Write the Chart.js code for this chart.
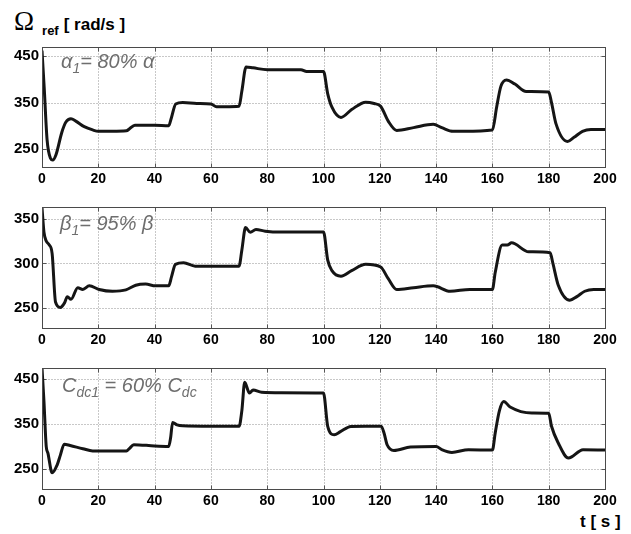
<!DOCTYPE html>
<html>
<head>
<meta charset="utf-8">
<script src="https://cdn.jsdelivr.net/npm/chart.js@4.4.1/dist/chart.umd.min.js"></script>
<style>
    body { margin: 0; background: #fff; }
    #wrap { position: relative; width: 631px; height: 534px; font-family: "Liberation Sans", Arial, sans-serif; }
    canvas { position: absolute; left: 0; }
    .note { position: absolute; color: #6e6e6e; font-style: italic; font-size: 20px; white-space: nowrap; }
    .note sub { font-size: 14px; vertical-align: -5px; }
</style>
</head>
<body>
<div id="wrap">
    <div style="position:absolute;left:14px;top:6px;white-space:nowrap;">
        <span style="font-family:'Liberation Serif',serif;font-size:27px;">&Omega;</span><span style="font-weight:bold;font-size:13px;position:relative;top:5px;margin-left:8px;">ref</span><span style="font-weight:bold;font-size:17px;margin-left:5px;">[ rad/s ]</span>
    </div>
    <div style="position:absolute;left:580px;top:512px;font-weight:bold;font-size:17px;white-space:nowrap;">t [ s ]</div>

    <canvas id="chartAlpha" width="631" height="150" style="top:39px"></canvas>
    <canvas id="chartBeta" width="631" height="151" style="top:199px"></canvas>
    <canvas id="chartCdc" width="631" height="151" style="top:360px"></canvas>

    <div class="note" style="left:61px;top:50px;">&alpha;<sub>1</sub>= 80% &alpha;</div>
    <div class="note" style="left:60px;top:212px;">&beta;<sub>1</sub>= 95% &beta;</div>
    <div class="note" style="left:62px;top:374px;">C<sub>dc1</sub> = 60% C<sub>dc</sub></div>
</div>
<script>
// x ticks (time, s)
const xTicks = [0, 20, 40, 60, 80, 100, 120, 140, 160, 180, 200];

// panel 1: alpha1 = 80% alpha
const tAlpha = [0, 0.8, 1.8, 3, 3.8, 5, 7, 8.5, 10.3, 12, 15, 18, 20, 25, 30, 31, 33, 40, 45, 46, 47.5, 50, 55, 60, 62, 65, 70, 71, 72.5, 75, 80, 85, 92, 94, 100, 101.5, 103, 106.2, 110, 115, 118, 120.3, 123, 126, 132, 139, 142, 146, 150, 160, 161.5, 163, 165, 168, 172, 180, 181, 182.6, 186.7, 189, 192, 195, 200];
const vAlpha = [462, 380, 270, 230, 226, 238, 285, 308, 315, 310, 298, 291, 288, 288, 289, 293, 301, 301, 300, 318, 347, 350, 348, 347, 341, 341, 342, 375, 427, 425, 421, 421, 421, 417, 417, 369, 340, 318, 335, 351, 348, 342, 310, 290, 296, 303, 296, 288, 288, 291, 340, 385, 399, 390, 374, 373, 350, 304, 266, 275, 288, 292, 292];
const yTicksAlpha = [250, 350, 450];

// panel 2: beta1 = 95% beta
const tBeta = [0, 0.7, 1.5, 2.5, 3.6, 4.8, 6.5, 8, 9, 10.3, 12.7, 14.5, 16.8, 20.3, 25, 29.8, 33.3, 36.8, 40.3, 45, 46, 47.4, 50.3, 54.4, 60, 70, 71, 72.3, 74, 76, 79.3, 85, 100, 101.5, 103, 106.2, 110, 115, 120.3, 123, 126, 132, 139, 145, 152, 160, 161, 163.5, 165.3, 166.8, 172.9, 180.5, 181.5, 183.4, 187.5, 190, 192.8, 196, 200];
const vBeta = [362, 335, 325, 321, 311, 257, 251, 256, 263, 260, 273, 271, 275, 271, 269, 270.5, 275.7, 277, 275, 275, 285, 299, 300.7, 297, 297, 297, 315, 340, 334.7, 338, 336, 335, 335, 303.7, 292, 285.8, 292, 299, 296, 283, 271, 273, 275, 269, 271, 271, 290, 320.5, 320.5, 323, 313, 312, 300, 275.7, 259, 263, 269, 271, 271];
const yTicksBeta = [250, 300, 350];

// panel 3: Cdc1 = 60% Cdc
const tCdc = [0, 0.7, 1.5, 2.1, 3.6, 5.4, 6.5, 7.9, 10, 14.5, 18, 25, 30, 31, 32.6, 40, 45, 45.7, 46.4, 48, 50, 60, 70, 71, 72, 73.7, 75, 78, 85, 100, 101.5, 103.8, 106, 109.7, 115, 120.5, 121.5, 122.6, 125, 130.9, 140, 142, 145.6, 151.5, 160, 161, 162.5, 164, 166.3, 174, 180, 181, 183.4, 187, 192.2, 200];
const vCdc = [475, 400, 300, 285, 241, 259, 280, 305, 302, 295, 290, 290, 290, 295, 304, 301, 300, 320, 353.6, 348, 346, 345, 345, 380, 443, 419, 426, 421, 420, 419, 344.7, 326, 333, 344.7, 345, 345, 330, 303.8, 291, 298.6, 300, 293, 286.7, 292.6, 292, 330, 380, 400.5, 388, 374.5, 374, 345, 307.6, 274, 292.6, 292];
const yTicksCdc = [250, 350, 450];

// dotted grid, inward ticks and a box round the plot area (matlab look)
const framePlugin = {
    id: 'frame',
    beforeDatasetsDraw(chart) {
        const a = chart.chartArea;
        const ctx = chart.ctx;
        const L = Math.round(a.left) + 0.5, R = Math.round(a.right) + 0.5;
        const T = Math.round(a.top) + 0.5, B = Math.round(a.bottom) + 0.5;
        ctx.save();
        ctx.lineWidth = 1;
        ctx.strokeStyle = '#909090';
        ctx.setLineDash([1, 2]);
        chart.scales.x.ticks.forEach(tk => {
            const px = Math.round(chart.scales.x.getPixelForValue(tk.value)) + 0.5;
            ctx.beginPath(); ctx.moveTo(px, T); ctx.lineTo(px, B); ctx.stroke();
        });
        chart.scales.y.ticks.forEach(tk => {
            const py = Math.round(chart.scales.y.getPixelForValue(tk.value)) + 0.5;
            ctx.beginPath(); ctx.moveTo(L, py); ctx.lineTo(R, py); ctx.stroke();
        });
        ctx.setLineDash([]);
        ctx.strokeStyle = '#555';
        chart.scales.x.ticks.forEach(tk => {
            const px = Math.round(chart.scales.x.getPixelForValue(tk.value)) + 0.5;
            ctx.beginPath(); ctx.moveTo(px, B); ctx.lineTo(px, B - 4); ctx.moveTo(px, T); ctx.lineTo(px, T + 4); ctx.stroke();
        });
        chart.scales.y.ticks.forEach(tk => {
            const py = Math.round(chart.scales.y.getPixelForValue(tk.value)) + 0.5;
            ctx.beginPath(); ctx.moveTo(L, py); ctx.lineTo(L + 4, py); ctx.moveTo(R, py); ctx.lineTo(R - 4, py); ctx.stroke();
        });
        ctx.restore();
    },
    afterDraw(chart) {
        const a = chart.chartArea;
        const ctx = chart.ctx;
        ctx.save();
        ctx.strokeStyle = '#4a4a4a';
        ctx.lineWidth = 1;
        ctx.strokeRect(Math.round(a.left) + 0.5, Math.round(a.top) + 0.5, Math.round(a.right - a.left), Math.round(a.bottom - a.top));
        ctx.restore();
    }
};

function makePanel(id, times, values, yMin, yMax, yTicks) {
    const points = times.map((t, i) => ({ x: t, y: values[i] }));
    new Chart(document.getElementById(id), {
        type: 'line',
        data: {
            datasets: [{
                data: points,
                borderColor: '#151515',
                borderWidth: 3,
                pointRadius: 0,
                fill: false,
                cubicInterpolationMode: 'monotone'
            }]
        },
        options: {
            responsive: false,
            animation: false,
            devicePixelRatio: 1,
            layout: { padding: { top: 8, right: 26, bottom: 0, left: 0 } },
            plugins: { legend: { display: false }, tooltip: { enabled: false } },
            scales: {
                x: {
                    type: 'linear',
                    min: 0,
                    max: 200,
                    afterBuildTicks: s => { s.ticks = xTicks.map(v => ({ value: v })); },
                    afterFit: s => { s.height = 22; },
                    grid: { drawOnChartArea: false, drawTicks: false },
                    border: { display: false },
                    ticks: { color: '#000', padding: 4, maxRotation: 0, font: { family: 'Liberation Sans', size: 14, weight: 'bold' } }
                },
                y: {
                    min: yMin,
                    max: yMax,
                    afterBuildTicks: s => { s.ticks = yTicks.map(v => ({ value: v })); },
                    // fixed width, and no extra room for the edge labels
                    afterFit: s => { s.width = 42; s.paddingTop = 0; s.paddingBottom = 0; },
                    grid: { drawOnChartArea: false, drawTicks: false },
                    border: { display: false },
                    ticks: { color: '#000', padding: 3, font: { family: 'Liberation Sans', size: 15, weight: 'bold' } }
                }
            }
        },
        plugins: [framePlugin]
    });
}

makePanel('chartAlpha', tAlpha, vAlpha, 211, 470, yTicksAlpha);
makePanel('chartBeta', tBeta, vBeta, 228, 363, yTicksBeta);
makePanel('chartCdc', tCdc, vCdc, 205, 475, yTicksCdc);
</script>
</body>
</html>
